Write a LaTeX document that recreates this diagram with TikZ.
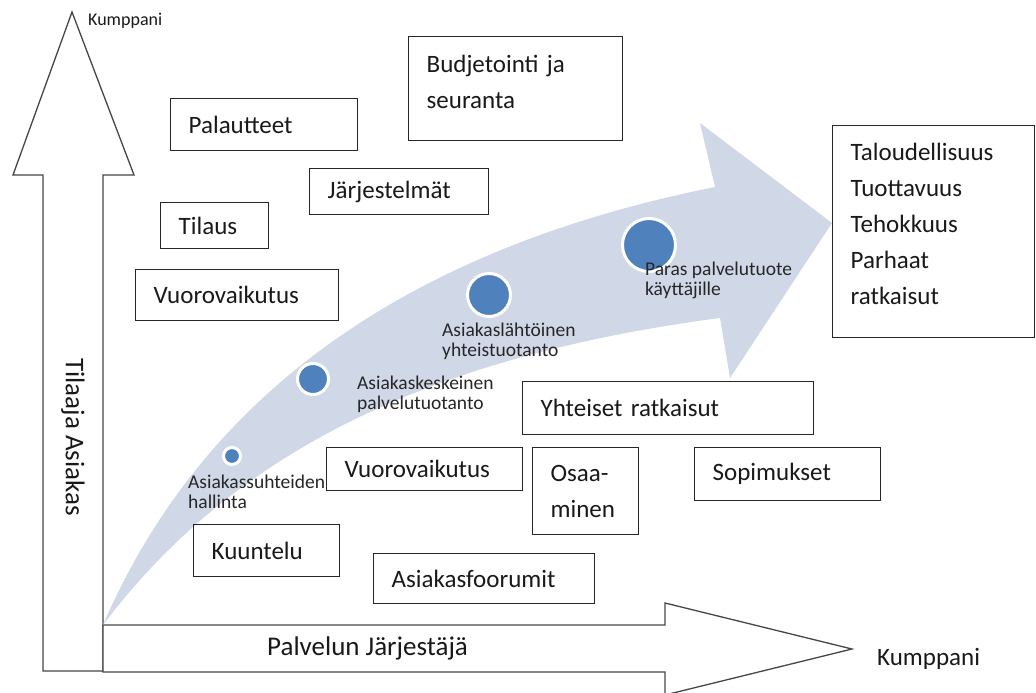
\documentclass[tikz,border=0pt]{standalone}
\usepackage{fontspec}
\setmainfont{Carlito}
\definecolor{bandfill}{RGB}{208,216,232}
\definecolor{dotblue}{RGB}{79,129,189}
\definecolor{axisline}{RGB}{70,70,70}
\begin{document}
\begin{tikzpicture}[x=1pt,y=-1pt,
    box/.style={draw=black!85, line width=1.3pt, anchor=north west, inner xsep=18pt,
      inner ysep=0pt, align=left, text=black!90, font=\fontsize{25}{36}\selectfont},
    stage/.style={circle, fill=dotblue, draw=white, line width=3pt, inner sep=0pt},
    stagelabel/.style={anchor=west, inner sep=0pt, align=left, text=black!85,
      font=\fontsize{19.5}{20}\selectfont},
    axis/.style={draw=axisline, line width=1.3pt, fill=white},
    axislabel/.style={inner sep=0pt, text=black!90}]
  \useasboundingbox (0,0) rectangle (1036,693);

  \draw[axis] (43,671) -- (43,175) -- (13,175) -- (72,12) -- (134,175)
    -- (103,175) -- (103,671) -- cycle;
  \draw[axis] (103,625) -- (665,625) -- (665,603) -- (852,649) -- (665,695)
    -- (665,672) -- (103,672) -- cycle;

  \fill[bandfill] (103,625) .. controls (200,400) and (400,250) .. (715,187)
    -- (700,123) -- (832,223) -- (730,378) -- (720,318)
    .. controls (400,360) and (220,470) .. (103,625) -- cycle;

  \node[axislabel, anchor=west, font=\fontsize{18}{20}\selectfont] (kumppaniy) at (88,21) {Kumppani};
  \node[axislabel, anchor=west, font=\fontsize{25}{30}\selectfont] (kumppanix) at (877,659) {Kumppani};
  \node[axislabel, anchor=west, font=\fontsize{27}{30}\selectfont] (jarjestaja) at (267,648) {Palvelun Järjestäjä};
  \node[axislabel, rotate=-90, font=\fontsize{27}{30}\selectfont] (tilaaja) at (73,437) {Tilaaja Asiakas};

  \node[stage, minimum size=17pt] (s1) at (232,456) {};
  \node[stage, minimum size=31pt] (s2) at (313,379) {};
  \node[stage, minimum size=43pt] (s3) at (489,295) {};
  \node[stage, minimum size=53pt] (s4) at (649,245) {};

  \node[stagelabel] (l1) at (188,492) {Asiakassuhteiden\\hallinta};
  \node[stagelabel] (l2) at (357,394) {Asiakaskeskeinen\\palvelutuotanto};
  \node[stagelabel] (l3) at (442,341) {Asiakaslähtöinen\\yhteistuotanto};
  \node[stagelabel] (l4) at (645,280) {Paras palvelutuote\\käyttäjille};

  \node[box, text width=178pt, minimum height=104pt] (budjetointi) at (408,36) {Budjetointi ja\\seuranta\\[-22pt]\mbox{}};
  \node[box, text width=151pt, minimum height=52pt] (palautteet) at (170,98) {Palautteet};
  \node[box, text width=143pt, minimum height=46pt] (jarjestelmat) at (309,168) {Järjestelmät};
  \node[box, text width=72pt, minimum height=46pt] (tilaus) at (160,202) {Tilaus};
  \node[box, text width=167pt, minimum height=51pt] (vuoroylä) at (135,269) {Vuorovaikutus};
  \node[box, text width=166pt, minimum height=212pt] (tulokset) at (832,125)
    {Taloudellisuus\\Tuottavuus\\Tehokkuus\\Parhaat\\ratkaisut\\[-20pt]\mbox{}};
  \node[box, text width=255pt, minimum height=53pt] (yhteiset) at (522,381) {Yhteiset ratkaisut};
  \node[box, text width=160pt, minimum height=43pt] (vuoroala) at (326,447) {Vuorovaikutus};
  \node[box, text width=70pt, minimum height=87pt] (osaaminen) at (532,447) {Osaa-\\minen};
  \node[box, text width=150pt, minimum height=53pt] (sopimukset) at (694,447) {Sopimukset};
  \node[box, text width=110pt, minimum height=52pt] (kuuntelu) at (193,524) {Kuuntelu};
  \node[box, text width=185pt, minimum height=50pt] (foorumit) at (373,553) {Asiakasfoorumit};
\end{tikzpicture}
\end{document}
